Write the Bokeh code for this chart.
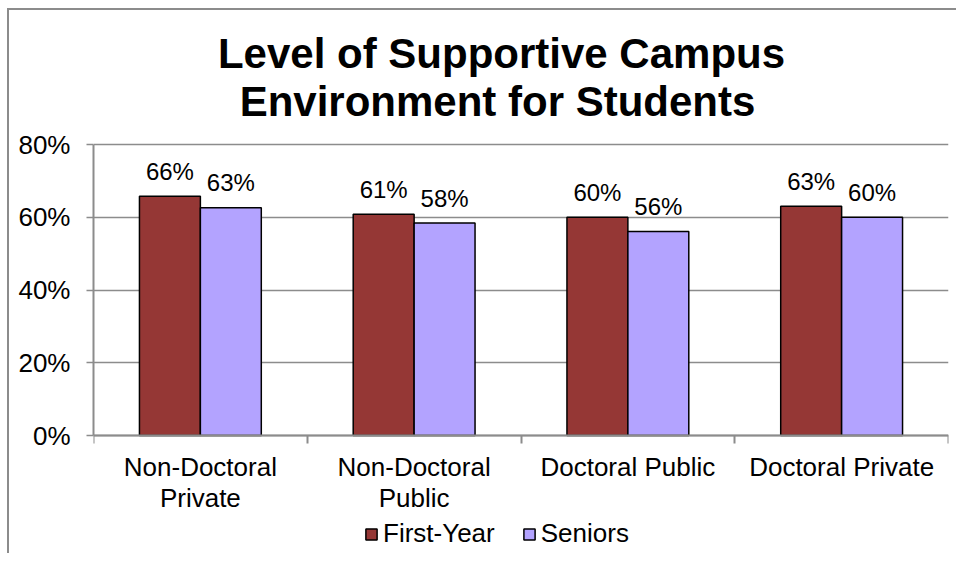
from bokeh.plotting import figure
from bokeh.models import (Range1d, FixedTicker, NumeralTickFormatter, Label,
                          Legend, LegendItem, ColumnDataSource)
from bokeh.embed import file_html
from bokeh.resources import INLINE
from bokeh.core.properties import value

# ---- data ----
categories = ["Non-Doctoral\nPrivate", "Non-Doctoral\nPublic", "Doctoral Public", "Doctoral Private"]
first_year = [0.658, 0.608, 0.600, 0.630]
seniors = [0.626, 0.584, 0.561, 0.600]
y_ticks = [0.0, 0.2, 0.4, 0.6, 0.8]
series_names = ["First-Year", "Seniors"]
title_lines = ["Level of Supportive Campus", "Environment for Students"]

# ---- style / layout ----
FONT = "Liberation Sans"
FY_COLOR = "#953735"
SR_COLOR = "#B3A3FF"
GRID_COLOR = "#8C8C8C"
BAR_W = 0.285
W, H = 956, 553
FRAME_L, FRAME_R, FRAME_T, FRAME_B = 93, 948, 10, 553
Y0_PX, Y80_PX = 435, 144          # pixel rows of 0% and 80%
PX_PER_UNIT = (Y0_PX - Y80_PX) / 0.8

n = len(categories)
centers = [i + 0.5 for i in range(n)]
boundaries = [float(i) for i in range(n + 1)]
y_lo = -(FRAME_B - Y0_PX) / PX_PER_UNIT
y_hi = 0.8 + (Y80_PX - FRAME_T) / PX_PER_UNIT

p = figure(width=W, height=H, output_backend="svg", toolbar_location=None,
           title=None, x_range=Range1d(0, n), y_range=Range1d(y_lo, y_hi),
           min_border_left=FRAME_L, min_border_right=W - FRAME_R,
           min_border_top=FRAME_T, min_border_bottom=H - FRAME_B,
           background_fill_color="white", border_fill_color=None)
p.styles = {"background": "linear-gradient(#8C8C8C,#8C8C8C) 7px 8px / 2px 100% no-repeat, "
                          "linear-gradient(#8C8C8C,#8C8C8C) 7px 8px / 100% 2px no-repeat, #ffffff"}
p.outline_line_color = None

fy_src = ColumnDataSource(dict(x=[c - BAR_W / 2 for c in centers], top=first_year,
                               text=[f"{round(v * 100)}%" for v in first_year]))
sr_src = ColumnDataSource(dict(x=[c + BAR_W / 2 for c in centers], top=seniors,
                               text=[f"{round(v * 100)}%" for v in seniors]))

r_fy = p.vbar(x="x", top="top", bottom=0, width=BAR_W, source=fy_src, fill_color=FY_COLOR,
              line_color="black", line_width=1.5)
r_sr = p.vbar(x="x", top="top", bottom=0, width=BAR_W, source=sr_src, fill_color=SR_COLOR,
              line_color="black", line_width=1.5)

for src in (fy_src, sr_src):
    p.text(x="x", y="top", text="text", source=src, y_offset=-25,
           text_align="center", text_baseline="alphabetic",
           text_font=value(FONT), text_font_size="24px", text_color="black")

# ---- grid / axes ----
p.xgrid.visible = False
p.ygrid.ticker = FixedTicker(ticks=y_ticks)
p.ygrid.grid_line_color = GRID_COLOR
p.ygrid.grid_line_width = 1.5

ya = p.yaxis[0]
ya.ticker = FixedTicker(ticks=y_ticks)
ya.bounds = (0, 0.8)
ya.formatter = NumeralTickFormatter(format="0%")
ya.major_label_text_font = FONT
ya.major_label_text_font_size = "26px"
ya.major_label_text_color = "black"
ya.major_tick_out = 7
ya.major_tick_in = 0
ya.minor_tick_line_color = None
ya.major_tick_line_color = GRID_COLOR
ya.major_tick_line_width = 1.5
ya.axis_line_color = GRID_COLOR
ya.axis_line_width = 2
ya.major_label_standoff = 16

xa = p.xaxis[0]
xa.fixed_location = 0
xa.ticker = FixedTicker(ticks=centers, minor_ticks=boundaries)
xa.major_label_overrides = {c: lab for c, lab in zip(centers, categories)}
xa.major_label_text_font = FONT
xa.major_label_text_font_size = "26px"
xa.major_label_text_color = "black"
xa.major_label_text_line_height = 1.05
xa.major_tick_line_color = None
xa.major_tick_out = 8
xa.major_tick_in = 0
xa.minor_tick_out = 8
xa.minor_tick_in = 0
xa.minor_tick_line_color = GRID_COLOR
xa.minor_tick_line_width = 2
xa.axis_line_color = GRID_COLOR
xa.axis_line_width = 2
xa.major_label_standoff = 8

# ---- title ----
title_x = [1.9088, 1.890]
title_y = [0.8 + (Y80_PX - 52.5) / PX_PER_UNIT, 0.8 + (Y80_PX - 100.5) / PX_PER_UNIT]
for txt, xx, yy in zip(title_lines, title_x, title_y):
    p.add_layout(Label(x=xx, y=yy, text=txt, text_font=FONT, text_font_style="bold",
                       text_font_size="42px", text_align="center",
                       text_baseline="alphabetic", text_color="black"))

# ---- legend ----
legend = Legend(items=[LegendItem(label=series_names[0], renderers=[r_fy]),
                       LegendItem(label=series_names[1], renderers=[r_sr])],
                orientation="horizontal", location=(271, 4),
                label_text_font=FONT, label_text_font_size="26px",
                label_text_color="black",
                glyph_width=14, glyph_height=14, label_standoff=5, spacing=27,
                padding=0, margin=0, border_line_color=None,
                background_fill_alpha=0)
p.add_layout(legend, "center")

open("out.html", "w").write(file_html(p, INLINE))
